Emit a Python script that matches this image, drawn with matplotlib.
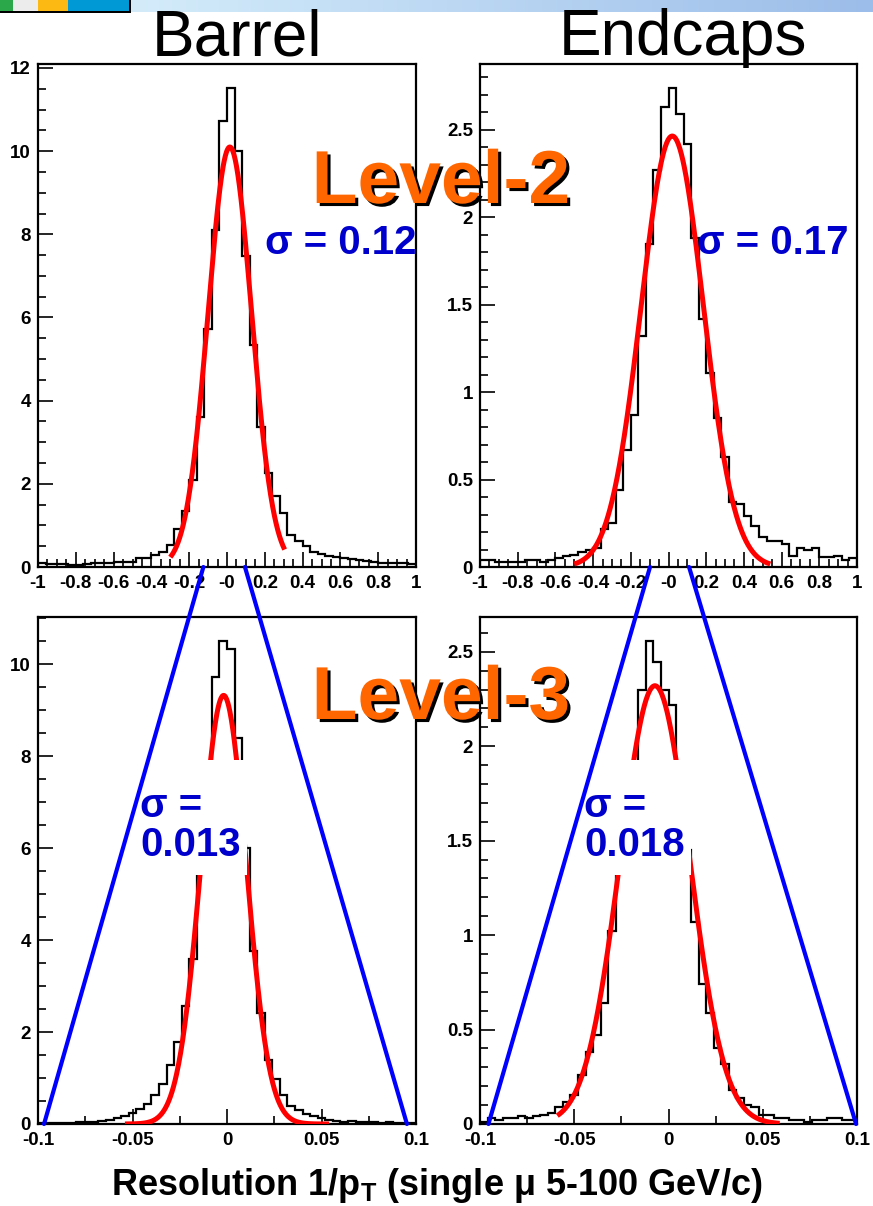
import matplotlib.pyplot as plt
import matplotlib.patheffects as pe
import numpy as np
from matplotlib.colors import LinearSegmentedColormap
from matplotlib.patches import ConnectionPatch, Rectangle
from matplotlib.ticker import FixedFormatter, FixedLocator, FuncFormatter, MultipleLocator

plt.rcParams["font.family"] = ["Liberation Sans", "DejaVu Sans"]
plt.rcParams["font.weight"] = "bold"
plt.rcParams["mathtext.fontset"] = "custom"
plt.rcParams["mathtext.rm"] = "Liberation Sans:bold"
plt.rcParams["mathtext.bf"] = "Liberation Sans:bold"

# ---- data ----
# Level-2: 50 bins over [-1, 1]
l2_range = (-1.0, 1.0)
barrel_l2 = [0.09, 0.08, 0.08, 0.07, 0.06, 0.06, 0.08, 0.09, 0.10, 0.10,
             0.11, 0.12, 0.13, 0.22, 0.21, 0.29, 0.37, 0.54, 0.91, 1.34,
             2.09, 3.61, 5.73, 8.10, 10.73, 11.52, 10.00, 7.47, 5.33, 3.36,
             2.26, 1.70, 1.29, 0.76, 0.62, 0.50, 0.37, 0.32, 0.27, 0.24,
             0.22, 0.20, 0.17, 0.15, 0.12, 0.10, 0.10, 0.09, 0.09, 0.08]
endcap_l2 = [0.04, 0.04, 0.03, 0.03, 0.03, 0.03, 0.04, 0.04, 0.03, 0.04,
             0.05, 0.065, 0.07, 0.084, 0.10, 0.11, 0.22, 0.25, 0.44, 0.67,
             0.87, 1.32, 1.85, 2.27, 2.63, 2.74, 2.59, 2.42, 1.88, 1.42,
             1.11, 0.85, 0.63, 0.37, 0.36, 0.29, 0.235, 0.17, 0.147, 0.147,
             0.13, 0.063, 0.108, 0.10, 0.108, 0.06, 0.06, 0.063, 0.04, 0.05]

# Level-3: 50 bins over [-0.1, 0.1]
l3_range = (-0.1, 0.1)
barrel_l3 = [0.02, 0.02, 0.02, 0.03, 0.03, 0.04, 0.04, 0.05, 0.06, 0.09,
             0.14, 0.17, 0.23, 0.33, 0.44, 0.62, 0.87, 1.28, 1.79, 2.57,
             3.58, 5.60, 7.30, 9.71, 10.50, 10.33, 8.40, 6.00, 3.77, 2.41,
             1.40, 0.97, 0.62, 0.40, 0.30, 0.21, 0.17, 0.12, 0.08, 0.07,
             0.05, 0.06, 0.04, 0.05, 0.04, 0.03, 0.04, 0.03, 0.03, 0.02]
endcap_l3 = [0.01, 0.03, 0.02, 0.03, 0.03, 0.04, 0.03, 0.04, 0.05, 0.06,
             0.089, 0.118, 0.156, 0.26, 0.38, 0.47, 0.64, 1.02, 1.35, 1.55,
             1.75, 2.30, 2.556, 2.446, 2.30, 2.22, 1.80, 1.45, 1.07, 0.74,
             0.59, 0.40, 0.32, 0.18, 0.137, 0.10, 0.09, 0.05, 0.05, 0.03,
             0.03, 0.02, 0.02, 0.01, 0.02, 0.02, 0.03, 0.03, 0.02, 0.02]

# gaussian fits: amplitude, mean, sigma, fit range
barrel_l2_fit = (10.1, 0.015, 0.115, -0.30, 0.305)
endcap_l2_fit = (2.465, 0.02, 0.165, -0.50, 0.54)
barrel_l3_fit = (9.32, -0.0018, 0.012, -0.054, 0.054)
endcap_l3_fit = (2.32, -0.0072, 0.0184, -0.059, 0.059)

l2_ticks = [-1, -0.8, -0.6, -0.4, -0.2, 0, 0.2, 0.4, 0.6, 0.8, 1]
l2_ticklabels = ["-1", "-0.8", "-0.6", "-0.4", "-0.2", "-0", "0.2", "0.4", "0.6", "0.8", "1"]
l3_ticks = [-0.1, -0.05, 0, 0.05, 0.1]
l3_ticklabels = ["-0.1", "-0.05", "0", "0.05", "0.1"]

sigma_labels = ["\u03c3 = 0.12", "\u03c3 = 0.17", "\u03c3 =\n0.013", "\u03c3 =\n0.018"]

# zoom-guide lines: x at y=0 on the Level-2 panel -> x at y=0 on the Level-3 panel
barrel_guides = [(-0.125, -0.0968), (0.095, 0.0952)]
endcap_guides = [(-0.098, -0.0955), (0.109, 0.0995)]

W, H = 873, 1206
fig = plt.figure(figsize=(W / 100, H / 100), dpi=100)


def fbox(x0, y0, x1, y1):
    # pixel box (top-left origin) -> figure fraction rect
    return [x0 / W, 1 - y1 / H, (x1 - x0) / W, (y1 - y0) / H]


def draw_panel(ax, counts, xrange, fit, ticks, ticklabels, xminor, ymajor, yminor):
    edges = np.linspace(xrange[0], xrange[1], len(counts) + 1)
    ax.stairs(counts, edges, color="black", lw=1.6, zorder=2)
    amp, mu, sig, lo, hi = fit
    xs = np.linspace(lo, hi, 400)
    ax.plot(xs, amp * np.exp(-0.5 * ((xs - mu) / sig) ** 2),
            color="#ff0000", lw=3.6, zorder=3, solid_capstyle="butt")
    ax.set_xlim(*xrange)
    ax.set_ylim(0, 1.05 * max(counts))
    ax.xaxis.set_major_locator(FixedLocator(ticks))
    ax.xaxis.set_major_formatter(FixedFormatter(ticklabels))
    ax.xaxis.set_minor_locator(MultipleLocator(xminor))
    ax.yaxis.set_major_locator(MultipleLocator(ymajor))
    ax.yaxis.set_minor_locator(MultipleLocator(yminor))
    ax.yaxis.set_major_formatter(FuncFormatter(lambda v, p: f"{v:g}"))
    ax.tick_params(which="both", direction="in", top=False, right=False,
                   labelsize=13.5, width=1.2)
    ax.tick_params(which="major", length=11)
    ax.tick_params(which="minor", length=6)
    ax.tick_params(axis="x", pad=6)
    ax.tick_params(axis="y", pad=5)
    for s in ax.spines.values():
        s.set_linewidth(1.6)


ax_bl2 = fig.add_axes(fbox(38, 64, 416, 567))
ax_ec2 = fig.add_axes(fbox(480, 64, 857, 567))
ax_bl3 = fig.add_axes(fbox(38, 617, 416, 1124))
ax_ec3 = fig.add_axes(fbox(480, 617, 857, 1124))

draw_panel(ax_bl2, barrel_l2, l2_range, barrel_l2_fit, l2_ticks, l2_ticklabels, 0.05, 2, 0.5)
draw_panel(ax_ec2, endcap_l2, l2_range, endcap_l2_fit, l2_ticks, l2_ticklabels, 0.05, 0.5, 0.1)
draw_panel(ax_bl3, barrel_l3, l3_range, barrel_l3_fit, l3_ticks, l3_ticklabels, 0.025, 2, 0.5)
draw_panel(ax_ec3, endcap_l3, l3_range, endcap_l3_fit, l3_ticks, l3_ticklabels, 0.025, 0.5, 0.1)

blue_txt = "#0000cc"
ax_bl2.text(0.600, 0.645, sigma_labels[0], transform=ax_bl2.transAxes, color=blue_txt,
            fontsize=29, ha="left", va="center", zorder=5)
ax_ec2.text(0.576, 0.645, sigma_labels[1], transform=ax_ec2.transAxes, color=blue_txt,
            fontsize=29, ha="left", va="center", zorder=5)

# white text boxes covering the middle of the Level-3 peaks
for ax, lab, x0 in [(ax_bl3, sigma_labels[2], 0.258), (ax_ec3, sigma_labels[3], 0.265)]:
    ax.add_patch(Rectangle((x0, 0.491), 0.295, 0.227, transform=ax.transAxes,
                           facecolor="white", edgecolor="none", zorder=4))
    ax.text(x0 + 0.012, 0.665, lab, transform=ax.transAxes, color=blue_txt,
            fontsize=29, ha="left", va="top", linespacing=1.05, zorder=5)

for (ax_top, ax_bot), guides in [((ax_bl2, ax_bl3), barrel_guides), ((ax_ec2, ax_ec3), endcap_guides)]:
    for xt, xb in guides:
        con = ConnectionPatch(xyA=(xt, 0), coordsA=ax_top.transData,
                              xyB=(xb, 0), coordsB=ax_bot.transData,
                              color="#0000ff", lw=3.0, zorder=6)
        fig.add_artist(con)

shadow = [pe.withSimplePatchShadow(offset=(2.2, -2.2), shadow_rgbFace="black", alpha=1.0)]
fig.text(0.505, 1 - 203 / H, "Level-2", color="#ff6600", fontsize=54, ha="center",
         va="baseline", path_effects=shadow, zorder=7)
fig.text(0.505, 1 - 719 / H, "Level-3", color="#ff6600", fontsize=54, ha="center",
         va="baseline", path_effects=shadow, zorder=7)

fig.text(237 / W, 1 - 55 / H, "Barrel", fontsize=46, fontweight="normal", ha="center", va="baseline")
fig.text(683 / W, 1 - 55 / H, "Endcaps", fontsize=46, fontweight="normal", ha="center", va="baseline")

fig.text(0.5, 1 - 1195 / H, "Resolution 1/p$_{\\mathbf{T}}$ (single \u03bc 5-100 GeV/c)",
         fontsize=26, ha="center", va="baseline")

# slide banner along the top edge
band = fig.add_axes(fbox(131, 0, 873, 12))
band.imshow(np.linspace(0, 1, 256)[None, :], aspect="auto",
            cmap=LinearSegmentedColormap.from_list("band", ["#d4ecfa", "#9cbde9"]))
band.axis("off")
for x0, x1, c in [(0, 13, "#2ba84a"), (13, 38, "#ececec"), (38, 68, "#fdb913"), (68, 129, "#0099d6")]:
    fig.add_artist(Rectangle((x0 / W, 1 - 12 / H), (x1 - x0) / W, 12 / H,
                             transform=fig.transFigure, facecolor=c, edgecolor="none"))
fig.add_artist(Rectangle((129 / W, 1 - 12 / H), 2 / W, 12 / H, transform=fig.transFigure,
                         facecolor="black", edgecolor="none"))
fig.add_artist(Rectangle((0, 1 - 13 / H), 131 / W, 1.5 / H, transform=fig.transFigure,
                         facecolor="black", edgecolor="none"))

fig.savefig("out.png", dpi=100)
